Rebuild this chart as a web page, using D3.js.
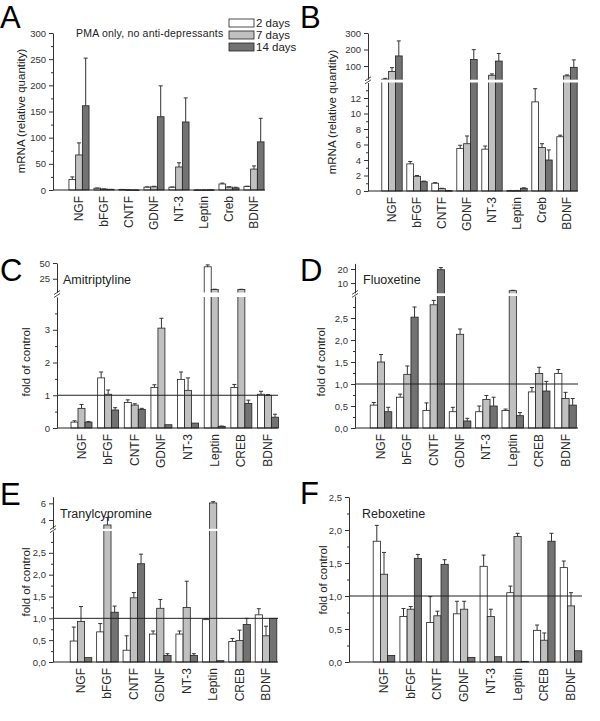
<!DOCTYPE html>
<html><head><meta charset="utf-8">
<script src="https://cdn.jsdelivr.net/npm/d3@7/dist/d3.min.js"></script>
<style>
body{margin:0;background:#fff}
text{font-family:"Liberation Sans",Arial,sans-serif}
</style>
</head><body>
<svg id="fig" width="600" height="721"></svg>
<script>
// ---------- data ----------
const genesAB = ["NGF","bFGF","CNTF","GDNF","NT-3","Leptin","Creb","BDNF"];
const genesCF = ["NGF","bFGF","CNTF","GDNF","NT-3","Leptin","CREB","BDNF"];
const seriesNames = ["2 days","7 days","14 days"];

// PMA only (panels A and B)
const pma2  = [20, 3.5, 1.0, 5.5, 5.4, 0.05, 11.5, 7.0];
const pma2e = [5, 0.3, 0.08, 0.4, 0.4, 0.02, 1.7, 0.2];
const pma7  = [67, 1.9, 0.3, 6.1, 44, 0.05, 5.6, 40];
const pma7e = [23, 0.1, 0.05, 1.0, 8, 0.02, 0.5, 6];
const pma14  = [161, 1.2, 0.05, 140, 130, 0.35, 4.0, 92];
const pma14e = [91, 0.08, 0.02, 59, 46, 0.06, 1.3, 45];

// Amitriptyline (C)
const ami2  = [0.18, 1.53, 0.78, 1.24, 1.48, 44, 1.24, 1.03];
const ami2e = [0.04, 0.18, 0.08, 0.08, 0.23, 3, 0.09, 0.09];
const ami7  = [0.6, 1.03, 0.7, 3.05, 1.15, 8, 8, 1.0];
const ami7e = [0.12, 0.13, 0.04, 0.3, 0.38, 0.4, 0.3, 0.02];
const ami14  = [0.18, 0.55, 0.57, 0.1, 0.15, 0.05, 0.75, 0.33];
const ami14e = [0.02, 0.07, 0.03, 0, 0, 0.01, 0.1, 0.09];

// Fluoxetine (D)
const flu2  = [0.52, 0.7, 0.4, 0.37, 0.37, 0.4, 0.82, 1.24];
const flu2e = [0.06, 0.07, 0.17, 0.1, 0.13, 0.03, 0.1, 0.09];
const flu7  = [1.5, 1.22, 2.8, 2.13, 0.65, 4.5, 1.24, 0.67];
const flu7e = [0.17, 0.19, 0.1, 0.12, 0.09, 0.3, 0.14, 0.14];
const flu14  = [0.37, 2.52, 19.5, 0.16, 0.5, 0.28, 0.84, 0.52];
const flu14e = [0.1, 0.23, 1.5, 0.06, 0.2, 0.07, 0.22, 0.15];

// Tranylcypromine (E)
const tra2  = [0.48, 0.69, 0.27, 0.64, 0.64, 0.97, 0.47, 1.08];
const tra2e = [0.32, 0.19, 0.33, 0.07, 0.07, 0.02, 0.07, 0.14];
const tra7  = [0.93, 3.4, 1.47, 1.23, 1.25, 6.05, 0.49, 0.6];
const tra7e = [0.34, 0.9, 0.12, 0.2, 0.6, 0.15, 0.24, 0.22];
const tra14  = [0.1, 1.14, 2.25, 0.15, 0.15, 0.03, 0.86, 1.0];
const tra14e = [0, 0.14, 0.22, 0.04, 0.04, 0, 0.14, 0];

// Reboxetine (F)
const reb2  = [1.83, 0.69, 0.6, 0.73, 1.45, 1.05, 0.48, 1.43];
const reb2e = [0.24, 0.12, 0.39, 0.19, 0.17, 0.1, 0.08, 0.1];
const reb7  = [1.33, 0.8, 0.7, 0.8, 0.69, 1.9, 0.33, 0.85];
const reb7e = [0.33, 0.04, 0.07, 0.12, 0.11, 0.05, 0.11, 0.2];
const reb14  = [0.1, 1.57, 1.48, 0.07, 0.08, 0.01, 1.83, 0.17];
const reb14e = [0, 0.06, 0.07, 0, 0, 0, 0.12, 0];

// tick values
const ticksA = [0, 50, 100, 150, 200, 250, 300];
const ticksBlow = [0, 2, 4, 6, 8, 10, 12];
const ticksBhigh = [100, 200, 300];
const ticksClow = [0, 1, 2, 3];
const ticksChigh = [25, 50];
const ticksDlow = [0, 0.5, 1, 1.5, 2, 2.5];
const ticksDhigh = [10, 20];
const ticksElow = [0, 0.5, 1, 1.5, 2, 2.5];
const ticksEhigh = [4, 6];
const ticksF = [0, 0.5, 1, 1.5, 2, 2.5];

// ---------- drawing ----------
const fills = ["#ffffff", "#c0c0c0", "#727272"];
const svg = d3.select("#fig");
const comma = d => d3.format(".1f")(d).replace(".", ",");
const plain = d => String(d);

function panel(c) {
  const g = svg.append("g");
  const yLow = d3.scaleLinear().domain(c.low.domain).range(c.low.range);
  const yHigh = c.high ? d3.scaleLinear().domain(c.high.domain).range(c.high.range) : null;
  const lowMax = c.low.domain[1];
  const y = v => (!yHigh || v <= lowMax) ? yLow(v) : yHigh(v);
  const xc = d3.scaleLinear().domain([0, 7]).range([c.c1, c.c8]);
  const y0 = yLow(0);

  // title (under the bars, as in the original)
  if (c.title) {
    g.append("text").attr("x", c.tx).attr("y", c.ty).attr("font-size", c.tsize)
      .attr("letter-spacing", c.tls || 0).attr("fill", "#222").text(c.title);
  }

  // bars
  c.series.forEach((s, k) => {
    const vals = s[0], errs = s[1];
    vals.forEach((v, i) => {
      const cx = xc(i) + (k - 1) * c.bw;
      g.append("rect")
        .attr("x", cx - c.bw / 2).attr("y", y(v))
        .attr("width", c.bw).attr("height", Math.max(0.6, y0 - y(v)))
        .attr("fill", fills[k]).attr("stroke", "#222").attr("stroke-width", 0.8);
      const e = errs[i];
      if (e > 0) {
        const yt = y(v + e);
        g.append("line").attr("x1", cx).attr("x2", cx).attr("y1", y(v)).attr("y2", yt)
          .attr("stroke", "#333").attr("stroke-width", 1);
        g.append("line").attr("x1", cx - 2).attr("x2", cx + 2).attr("y1", yt).attr("y2", yt)
          .attr("stroke", "#333").attr("stroke-width", 1);
      }
    });
  });

  // break band
  if (yHigh) {
    const top = c.high.range[0], bot = c.low.range[1];
    g.append("rect").attr("x", c.x0 + 1).attr("y", top + 0.5)
      .attr("width", c.x1 - c.x0 + 2).attr("height", Math.max(1.5, bot - top - 0.5))
      .attr("fill", "#fff");
  }

  // x axis line
  g.append("line").attr("x1", c.x0).attr("x2", c.x1).attr("y1", y0).attr("y2", y0)
    .attr("stroke", "#222").attr("stroke-width", 1);
  // reference line at 1
  if (c.hline) {
    g.append("line").attr("x1", c.x0).attr("x2", c.x1).attr("y1", y(1)).attr("y2", y(1))
      .attr("stroke", "#222").attr("stroke-width", 1);
  }

  // y axes
  function axisSeg(scale, ticks, fmt, minor) {
    const a = g.append("g").attr("transform", `translate(${c.x0},0)`)
      .call(d3.axisLeft(scale).tickValues(ticks).tickFormat(fmt).tickSize(4).tickSizeOuter(0));
    a.select(".domain").attr("stroke", "#333");
    a.selectAll(".tick line").attr("stroke", "#333");
    a.selectAll("text").attr("font-size", 9.5).attr("fill", "#333")
      .attr("font-family", '"Liberation Sans",Arial,sans-serif');
    if (minor) {
      const m = g.append("g").attr("transform", `translate(${c.x0},0)`)
        .call(d3.axisLeft(scale).tickValues(minor).tickFormat("").tickSize(2).tickSizeOuter(0));
      m.select(".domain").remove();
      m.selectAll(".tick line").attr("stroke", "#333");
    }
  }
  axisSeg(yLow, c.low.ticks, c.fmt, c.low.minor);
  if (yHigh) {
    axisSeg(yHigh, c.high.ticks, plain, null);
    const mid = (c.high.range[0] + c.low.range[1]) / 2;
    [-2, 1].forEach(d => {
      g.append("line").attr("x1", c.x0 - 3).attr("x2", c.x0 + 3)
        .attr("y1", mid + d + 2).attr("y2", mid + d - 2)
        .attr("stroke", "#333").attr("stroke-width", 0.9);
    });
  }

  // x labels
  c.cats.forEach((name, i) => {
    g.append("text").attr("transform", `translate(${xc(i) + 4},${y0 + 6}) rotate(-90)`)
      .attr("text-anchor", "end").attr("font-size", 12).attr("fill", "#2a2a2a").text(name);
  });

  // y label
  g.append("text").attr("transform", `translate(${c.ylx},${c.yly}) rotate(-90)`)
    .attr("text-anchor", "middle").attr("font-size", 11.5).attr("fill", "#222").text(c.ylabel);

  // panel letter
  g.append("text").attr("x", c.lx).attr("y", c.ly).attr("font-size", 31).attr("fill", "#000").text(c.letter);

  return g;
}

const mrna = "mRNA (relative quantity)";
const foc = "fold of control";
const half = arr => arr.slice(0, -1).map((d, i) => (d + arr[i + 1]) / 2);

// A
const gA = panel({
  letter: "A", lx: 0, ly: 28, x0: 53, x1: 265, c1: 79, c8: 254, bw: 6.7,
  low: { domain: [0, 300], range: [190, 33], ticks: ticksA, minor: half(ticksA) },
  high: null, fmt: plain, cats: genesAB,
  series: [[pma2, pma2e], [pma7, pma7e], [pma14, pma14e]],
  ylabel: mrna, ylx: 25, yly: 111,
  title: "PMA only, no anti-depressants", tx: 76, ty: 37, tsize: 10.5, tls: 0.2
});
// legend
seriesNames.forEach((n, k) => {
  const ly = [19, 31, 43][k];
  gA.append("rect").attr("x", 229).attr("y", ly).attr("width", 25).attr("height", 8)
    .attr("fill", fills[k]).attr("stroke", "#222").attr("stroke-width", 0.8);
  gA.append("text").attr("x", 256).attr("y", ly + 8).attr("font-size", 11.5).attr("fill", "#222").text(n);
});

// B
panel({
  letter: "B", lx: 300, ly: 28, x0: 368, x1: 578, c1: 392, c8: 567, bw: 6.8,
  low: { domain: [0, 14], range: [191, 82.5], ticks: ticksBlow, minor: [1,3,5,7,9,11,13] },
  high: { domain: [20, 300], range: [79.2, 33], ticks: ticksBhigh },
  fmt: plain, cats: genesAB,
  series: [[pma2, pma2e], [pma7, pma7e], [pma14, pma14e]],
  ylabel: mrna, ylx: 336, yly: 112
});

// C
panel({
  letter: "C", lx: 0, ly: 281, x0: 57, x1: 278, c1: 81.5, c8: 268, bw: 7,
  low: { domain: [0, 4], range: [428, 297], ticks: ticksClow, minor: [0.5, 1.5, 2.5, 3.5] },
  high: { domain: [4, 50], range: [292, 263], ticks: ticksChigh },
  fmt: plain, cats: genesCF, hline: true,
  series: [[ami2, ami2e], [ami7, ami7e], [ami14, ami14e]],
  ylabel: foc, ylx: 30, yly: 362,
  title: "Amitriptyline", tx: 63, ty: 284, tsize: 12.5
});

// D
panel({
  letter: "D", lx: 300, ly: 281, x0: 355, x1: 578, c1: 381, c8: 565.5, bw: 7.2,
  low: { domain: [0, 3], range: [428, 296], ticks: ticksDlow, minor: [0.25,0.75,1.25,1.75,2.25,2.75] },
  high: { domain: [3, 24], range: [292.8, 263.4], ticks: ticksDhigh },
  fmt: comma, cats: genesCF, hline: true,
  series: [[flu2, flu2e], [flu7, flu7e], [flu14, flu14e]],
  ylabel: foc, ylx: 325, yly: 362,
  title: "Fluoxetine", tx: 363, ty: 284, tsize: 12.5
});

// E
panel({
  letter: "E", lx: 0, ly: 505, x0: 53, x1: 278, c1: 81, c8: 266, bw: 7.2,
  low: { domain: [0, 3], range: [662, 531], ticks: ticksElow, minor: [0.25,0.75,1.25,1.75,2.25,2.75] },
  high: { domain: [3, 6.8], range: [528.3, 496.7], ticks: ticksEhigh },
  fmt: comma, cats: genesCF, hline: true,
  series: [[tra2, tra2e], [tra7, tra7e], [tra14, tra14e]],
  ylabel: foc, ylx: 30, yly: 582,
  title: "Tranylcypromine", tx: 60, ty: 518, tsize: 12.5
});

// F
panel({
  letter: "F", lx: 300, ly: 504, x0: 349, x1: 582, c1: 384, c8: 571, bw: 7.2,
  low: { domain: [0, 2.5], range: [662, 497], ticks: ticksF, minor: [0.25,0.75,1.25,1.75,2.25] },
  high: null, fmt: comma, cats: genesCF, hline: true,
  series: [[reb2, reb2e], [reb7, reb7e], [reb14, reb14e]],
  ylabel: foc, ylx: 327, yly: 580,
  title: "Reboxetine", tx: 362, ty: 518, tsize: 12.5
});
</script>
</body></html>
